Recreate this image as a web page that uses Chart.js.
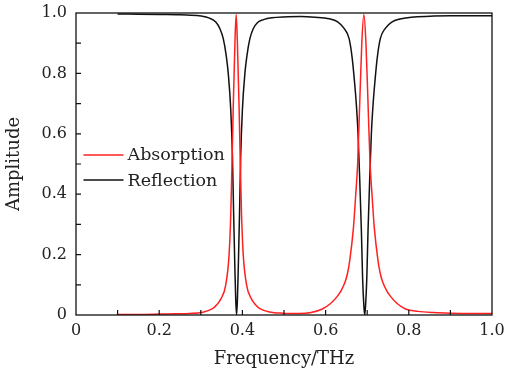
<!DOCTYPE html>
<html>
<head>
<meta charset="utf-8">
<script src="https://cdn.jsdelivr.net/npm/chart.js@4/dist/chart.umd.min.js"></script>
<style>
html,body{margin:0;padding:0;background:#fff;}
#wrap{width:505px;height:374px;position:relative;}
</style>
</head>
<body>
<div id="wrap"><canvas id="c" width="505" height="374"></canvas></div>
<script>
// ---- data ----
const seriesNames = ["Absorption", "Reflection"];
const xTickLabels = ["0", "0.2", "0.4", "0.6", "0.8", "1.0"];
const yTickLabels = ["0", "0.2", "0.4", "0.6", "0.8", "1.0"];

const freqAbs = [0.10,0.15,0.20,0.235,0.273,0.305,0.327,0.339,0.349,0.360,0.368,0.372,0.375,0.378,0.382,0.385,0.388,0.392,0.395,0.398,0.402,0.410,0.421,0.431,0.443,0.465,0.497,0.535,0.565,0.592,0.612,0.627,0.637,0.647,0.653,0.658,0.667,0.672,0.677,0.682,0.687,0.692,0.697,0.702,0.707,0.712,0.717,0.726,0.731,0.737,0.747,0.757,0.772,0.792,0.822,0.86,0.90,0.95,1.00];
const absorption = [0.002,0.002,0.003,0.004,0.005,0.009,0.020,0.035,0.055,0.10,0.20,0.33,0.50,0.69,0.90,0.995,0.90,0.69,0.50,0.33,0.20,0.10,0.055,0.035,0.020,0.010,0.006,0.005,0.008,0.020,0.038,0.060,0.080,0.110,0.140,0.18,0.29,0.39,0.50,0.70,0.90,0.995,0.90,0.70,0.50,0.39,0.29,0.18,0.140,0.110,0.080,0.060,0.038,0.020,0.012,0.008,0.006,0.005,0.005];

const freqRef = [0.10,0.15,0.20,0.25,0.266,0.301,0.321,0.336,0.346,0.354,0.361,0.366,0.372,0.376,0.379,0.382,0.384,0.386,0.388,0.390,0.393,0.396,0.400,0.406,0.411,0.418,0.426,0.436,0.451,0.471,0.50,0.54,0.574,0.609,0.629,0.644,0.6565,0.664,0.669,0.674,0.678,0.682,0.686,0.689,0.692,0.694,0.696,0.699,0.702,0.706,0.710,0.714,0.719,0.724,0.7315,0.744,0.759,0.779,0.814,0.86,0.90,0.95,1.00];
const reflection = [0.997,0.996,0.995,0.994,0.993,0.990,0.983,0.970,0.948,0.915,0.86,0.80,0.68,0.53,0.33,0.15,0.05,0.0,0.05,0.15,0.33,0.53,0.68,0.80,0.86,0.915,0.948,0.968,0.978,0.984,0.987,0.988,0.986,0.981,0.971,0.950,0.915,0.85,0.78,0.695,0.60,0.45,0.28,0.12,0.03,0.0,0.03,0.12,0.28,0.45,0.60,0.695,0.78,0.85,0.915,0.950,0.970,0.980,0.987,0.990,0.991,0.991,0.991];

const seriesColors = ["#ff2020", "#111111"];

// ---- chart ----
const FONT = "'DejaVu Serif', 'Liberation Serif', serif";
const tickVals = [0,0.2,0.4,0.6,0.8,1.0];

function toXY(xs, ys){ return xs.map((x,i)=>({x:x, y:ys[i]})); }

const frameAndTicks = {
  id: 'frameAndTicks',
  afterDatasetsDraw(chart){
    const {ctx, chartArea:a, scales} = chart;
    ctx.save();
    ctx.strokeStyle = '#111';
    ctx.lineWidth = 1.3;
    ctx.strokeRect(a.left, a.top, a.right - a.left, a.bottom - a.top);
    ctx.lineWidth = 1.2;
    ctx.beginPath();
    for (let i = 1; i < 10; i++) {
      const v = i / 10;
      const px = scales.x.getPixelForValue(v);
      ctx.moveTo(px, a.bottom); ctx.lineTo(px, a.bottom - 5);
      const py = scales.y.getPixelForValue(v);
      ctx.moveTo(a.left, py); ctx.lineTo(a.left + 5, py);
    }
    ctx.stroke();
    // legend inside plot
    ctx.font = "17.5px " + FONT;
    ctx.textBaseline = 'middle';
    ctx.textAlign = 'left';
    const lx = scales.x.getPixelForValue(0.018);
    const ly0 = scales.y.getPixelForValue(0.53);
    const ly1 = scales.y.getPixelForValue(0.447);
    const ys = [ly0, ly1];
    chart.data.datasets.forEach((ds, i) => {
      ctx.strokeStyle = ds.borderColor;
      ctx.lineWidth = 1.4;
      ctx.beginPath();
      ctx.moveTo(lx, ys[i]); ctx.lineTo(lx + 40, ys[i]);
      ctx.stroke();
      ctx.fillStyle = '#222';
      ctx.fillText(ds.label, lx + 44, ys[i] + 1);
    });
    ctx.restore();
  }
};

new Chart(document.getElementById('c'), {
  type: 'scatter',
  data: {
    datasets: [
      { label: seriesNames[0], data: toXY(freqAbs, absorption), showLine: true,
        borderColor: seriesColors[0], borderWidth: 1.5, pointRadius: 0, cubicInterpolationMode: 'monotone' },
      { label: seriesNames[1], data: toXY(freqRef, reflection), showLine: true,
        borderColor: seriesColors[1], borderWidth: 1.5, pointRadius: 0, cubicInterpolationMode: 'monotone' }
    ]
  },
  options: {
    responsive: false,
    animation: false,
    events: [],
    layout: { padding: { top: 13, right: 13, left: 0, bottom: 0 } },
    plugins: { legend: { display: false }, tooltip: { enabled: false } },
    scales: {
      x: {
        type: 'linear', min: 0, max: 1.0,
        afterBuildTicks(s){ s.ticks = tickVals.map(v => ({value: v})); },
        afterFit(s){ s.height = 59; s.paddingRight = 13; s.paddingLeft = 0; },
        ticks: { callback: (v, i) => xTickLabels[i], color: '#222', padding: 6, maxRotation: 0,
                 font: { family: FONT, size: 16 } },
        grid: { drawOnChartArea: false, drawTicks: false },
        border: { display: false },
        title: { display: true, text: 'Frequency/THz', color: '#222', padding: { top: 3 },
                 font: { family: FONT, size: 18 } }
      },
      y: {
        type: 'linear', min: 0, max: 1.0,
        afterBuildTicks(s){ s.ticks = tickVals.map(v => ({value: v})); },
        afterFit(s){ s.width = 76; s.paddingTop = 13; s.paddingBottom = 0; },
        ticks: { callback: (v, i) => yTickLabels[i], color: '#222', padding: 9,
                 font: { family: FONT, size: 16 } },
        grid: { drawOnChartArea: false, drawTicks: false },
        border: { display: false },
        title: { display: true, text: 'Amplitude', color: '#222', padding: { bottom: 1 },
                 font: { family: FONT, size: 18 } }
      }
    }
  },
  plugins: [frameAndTicks]
});
</script>
</body>
</html>
